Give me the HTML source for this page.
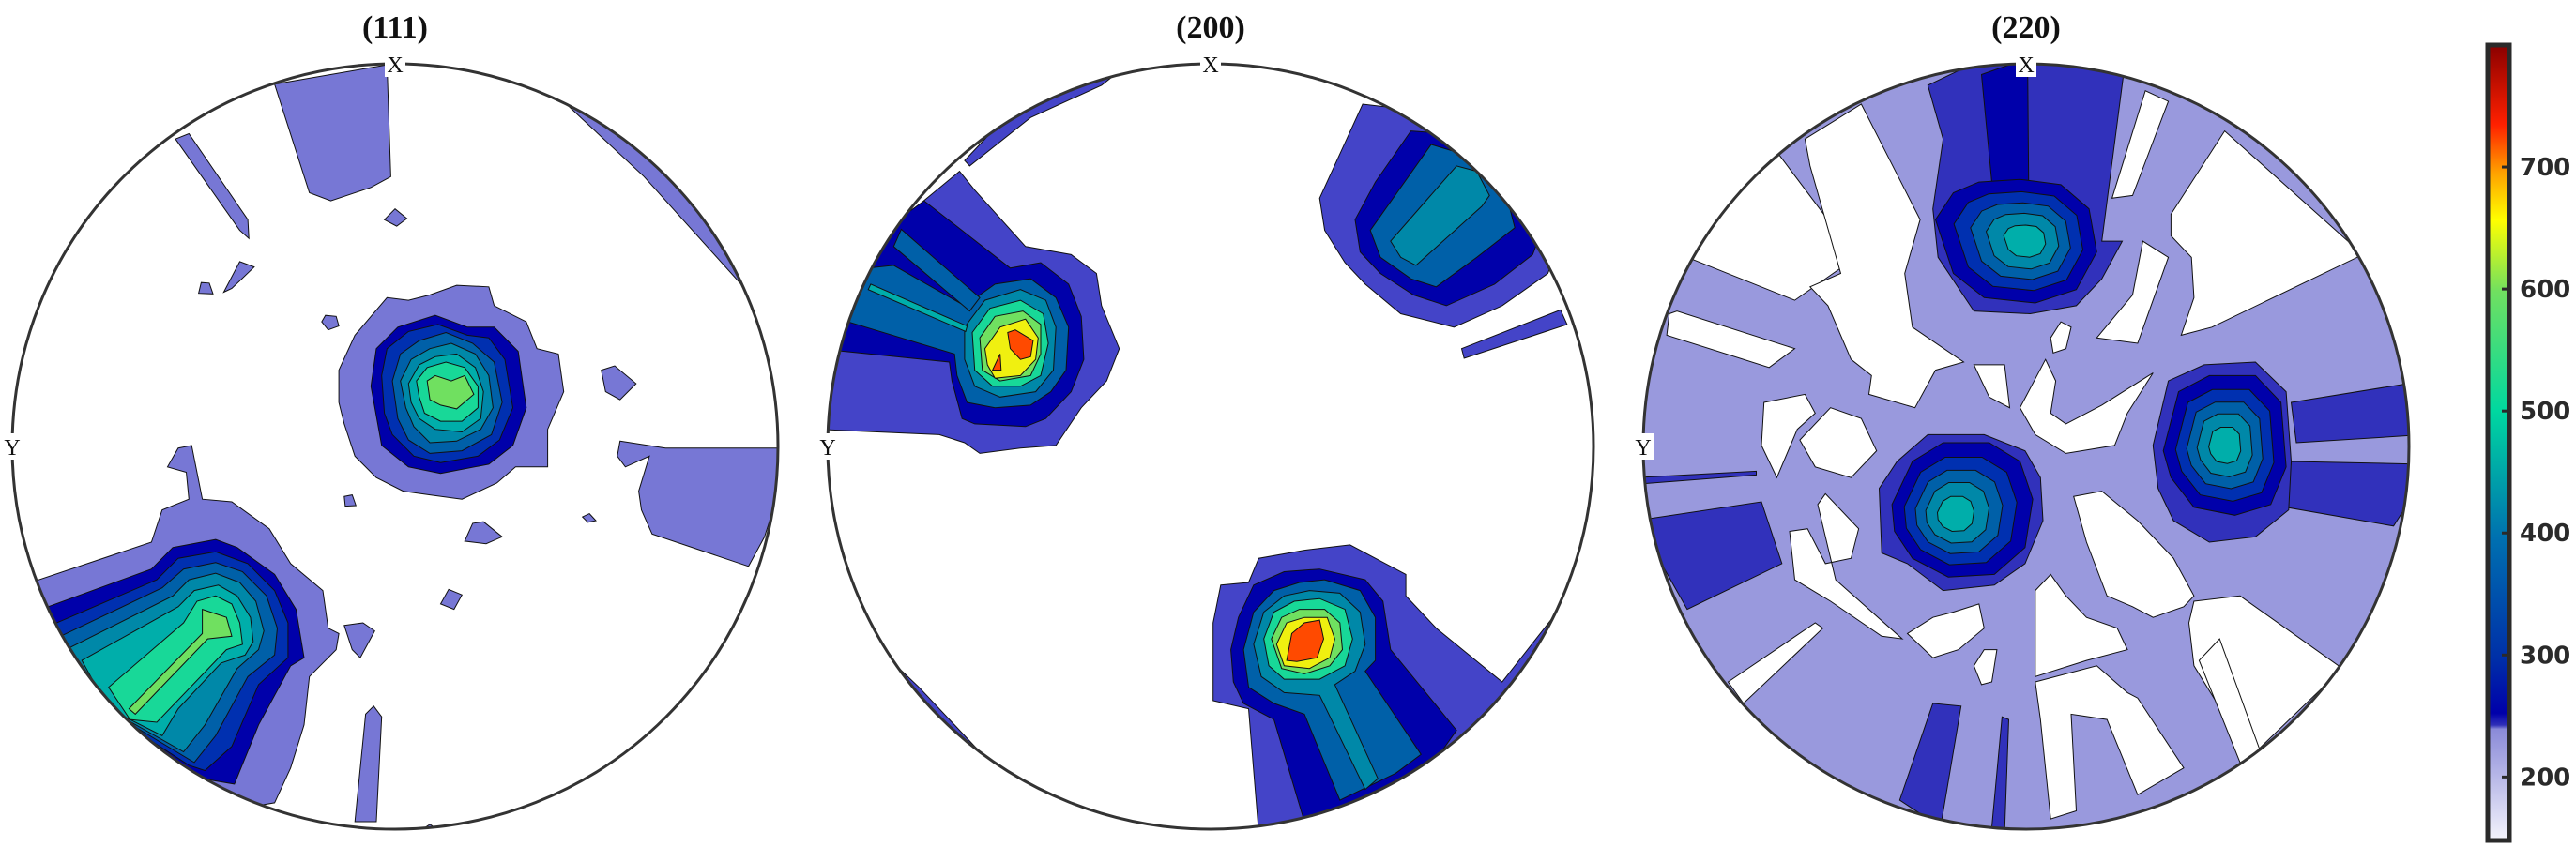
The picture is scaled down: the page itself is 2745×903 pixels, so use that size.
<!DOCTYPE html>
<html><head><meta charset="utf-8"><style>
html,body{margin:0;padding:0;background:#fff;}
svg{display:block;}
text{font-family:"Liberation Serif",serif;}
</style></head>
<body>
<svg id="fig" width="2745" height="903" viewBox="0 0 2745 903" xmlns="http://www.w3.org/2000/svg">
<defs>
<linearGradient id="cbg" x1="0" y1="1" x2="0" y2="0">
<stop offset="0" stop-color="#f4f4fc"/>
<stop offset="0.14" stop-color="#8a8ad8"/>
<stop offset="0.145" stop-color="#3030b8"/>
<stop offset="0.16" stop-color="#0000aa"/>
<stop offset="0.23" stop-color="#0030a8"/>
<stop offset="0.38" stop-color="#0070b0"/>
<stop offset="0.54" stop-color="#00d8a0"/>
<stop offset="0.69" stop-color="#70e060"/>
<stop offset="0.78" stop-color="#ffff00"/>
<stop offset="0.84" stop-color="#ffa000"/>
<stop offset="0.9" stop-color="#ff2000"/>
<stop offset="1" stop-color="#8a0000"/>
</linearGradient>
</defs>
<g id="panels"></g>
<g id="cbar"></g>
</svg>
<script>
// Colorbar data
const cbTicks = [200, 300, 400, 500, 600, 700];
const cbMin = 148, cbMax = 800;

const NS = 'http://www.w3.org/2000/svg';
const R = 408, CY = 476;
const panelTitles = ['(111)', '(200)', '(220)'];
const panelCx = [421, 1290, 2159];
const zoomFrame = [[735, 715], [775, 755], [782, 748]];

const C = {L1a:'#7777d5', L1b:'#4444c8', L1c:'#9999dd', D0:'#3131bb', D1:'#0000aa', D2:'#0030b0', D3:'#0060a8', D4:'#0088a8', D5:'#00aeaa', D6:'#18d898', D7:'#70e060', D8:'#f0f010', D9:'#ff4a00'};

// Panel 1 contours
const p1 = [
 ['L1a',[[510,148],[720,112],[727,320],[690,340],[615,365],[575,350]]],
 ['L1a',[[325,250],[350,240],[460,400],[462,435],[445,420]]],
 ['L1a',[[715,400],[735,380],[757,398],[738,412]]],
 ['L1a',[[415,535],[445,478],[472,488],[430,528]]],
 ['L1a',[[368,537],[373,517],[388,518],[395,538]]],
 ['L1a',[[598,590],[605,578],[625,580],[630,598],[610,605]]],
 ['L1a',[[630,680],[660,615],[720,545],[760,550],[800,540],[850,522],[910,525],[920,560],[980,590],[1000,640],[1040,650],[1050,720],[1020,790],[1020,860],[960,860],[925,890],[860,920],[800,912],[750,905],[700,880],[660,840],[640,780],[630,740]]],
 ['L1a',[[1155,812],[1240,825],[1460,825],[1460,880],[1425,990],[1395,1045],[1215,985],[1195,940],[1190,905],[1210,840],[1165,860],[1150,840]]],
 ['L1a',[[1120,680],[1145,672],[1185,705],[1155,735],[1128,720]]],
 ['L1a',[[865,998],[880,965],[900,962],[935,990],[905,1003]]],
 ['L1a',[[640,915],[655,912],[662,932],[642,933]]],
 ['L1a',[[1085,953],[1098,947],[1110,960],[1095,963]]],
 ['L1a',[[820,1115],[835,1088],[860,1098],[845,1125]]],
 ['L1a',[[640,1155],[675,1150],[697,1165],[670,1215],[655,1200]]],
 ['L1a',[[660,1520],[680,1320],[695,1305],[710,1325],[700,1520]]],
 ['L1a',[[40,1080],[280,1000],[300,940],[350,920],[345,870],[310,860],[330,825],[355,820],[375,920],[430,925],[500,975],[540,1040],[600,1090],[610,1160],[630,1170],[625,1200],[575,1250],[565,1340],[540,1420],[510,1485],[420,1500],[220,1400],[60,1200]]],
 ['L1a',[[1060,190],[1100,180],[1350,380],[1460,560],[1390,530],[1200,320]]],
 ['L1a',[[770,1545],[800,1525],[830,1545]]],
 ['D1',[[60,1130],[280,1050],[320,1010],[400,995],[440,1010],[510,1060],[550,1125],[565,1215],[540,1230],[480,1340],[435,1450],[375,1440],[230,1380],[80,1250]]],
 ['D2',[[80,1160],[290,1070],[330,1030],[400,1018],[460,1040],[510,1090],[535,1150],[535,1215],[480,1265],[430,1380],[380,1425],[350,1415],[140,1280]]],
 ['D3',[[100,1180],[300,1085],[340,1050],[400,1038],[450,1055],[495,1100],[515,1160],[510,1210],[460,1250],[400,1360],[360,1410],[160,1290]]],
 ['D4',[[120,1200],[320,1100],[350,1070],[400,1058],[445,1075],[475,1110],[490,1165],[480,1200],[440,1235],[380,1340],[340,1390],[180,1300]]],
 ['D5',[[150,1220],[330,1120],[360,1090],[405,1080],[440,1100],[465,1140],[470,1185],[455,1210],[410,1225],[330,1310],[300,1360],[200,1310]]],
 ['D6',[[200,1270],[340,1150],[365,1110],[400,1100],[430,1115],[445,1150],[450,1190],[420,1200],[290,1335],[240,1330]]],
 ['D7',[[375,1125],[420,1140],[430,1175],[385,1180],[250,1320],[238,1310],[375,1170]]],
 ['D1',[[690,710],[700,640],[740,600],[810,578],[870,600],[920,600],[965,645],[980,750],[955,820],[910,855],[820,872],[760,860],[710,820]]],
 ['D2',[[710,690],[720,640],[760,608],[815,595],[870,615],[910,620],[940,660],[955,750],[930,810],[890,840],[820,852],[770,840],[730,800],[715,760]]],
 ['D3',[[730,700],[745,650],[780,625],[830,610],[880,630],[920,665],[935,740],[915,800],[860,830],[800,835],[760,810],[740,770]]],
 ['D4',[[745,700],[765,660],[800,640],[840,630],[885,650],[910,690],[918,750],[895,790],[850,812],[800,815],[770,785],[755,750]]],
 ['D5',[[760,705],[780,670],[810,655],[850,650],[885,675],[900,720],[895,770],[860,795],[810,790],[780,770],[765,740]]],
 ['D6',[[775,700],[795,675],[830,665],[865,675],[890,710],[890,750],[860,775],[820,775],[790,760],[780,730]]],
 ['D7',[[795,700],[810,690],[840,700],[865,690],[882,725],[850,752],[820,745],[800,735]]]
];

// Panel 2 contours
const p2 = [
 ['L1b',[[0,700],[40,620],[110,480],[190,380],[280,310],[310,345],[410,450],[500,465],[550,500],[560,560],[595,640],[570,700],[520,750],[470,820],[400,825],[320,835],[290,815],[240,800],[0,790]]],
 ['L1b',[[290,290],[400,180],[600,120],[560,150],[420,210],[300,300]]],
 ['L1b',[[990,360],[1075,185],[1210,200],[1350,300],[1460,450],[1440,500],[1350,560],[1255,600],[1150,575],[1080,520],[1040,480],[1000,420]]],
 ['L1b',[[1270,640],[1465,568],[1478,595],[1275,658]]],
 ['L1b',[[795,1080],[850,1075],[870,1030],[960,1015],[1050,1005],[1120,1040],[1160,1060],[1160,1100],[1220,1160],[1350,1260],[1500,1080],[1480,1240],[1300,1420],[1150,1520],[1000,1560],[870,1540],[850,1310],[780,1295],[780,1150]]],
 ['L1b',[[100,1180],[200,1270],[350,1420],[330,1430],[100,1240]]],
 ['D1',[[0,640],[60,560],[130,420],[210,365],[380,490],[440,480],[495,520],[520,580],[525,660],[500,720],[450,770],[410,785],[310,780],[285,770],[265,700],[260,665]]],
 ['D3',[[60,590],[100,490],[150,485],[290,560],[350,520],[420,510],[470,545],[495,600],[490,680],[460,720],[420,745],[350,750],[295,740],[275,690],[270,650]]],
 ['D3',[[150,450],[165,418],[320,545],[300,570]]],
 ['D4',[[290,600],[330,550],[400,530],[450,550],[470,600],[465,680],[430,720],[360,730],[310,710],[290,660]]],
 ['D5',[[100,530],[105,520],[295,598],[292,608]]],
 ['D6',[[305,610],[340,565],[400,550],[445,575],[455,630],[440,690],[400,710],[345,710],[310,680]]],
 ['D7',[[320,620],[350,580],[405,570],[440,595],[440,650],[420,690],[360,700],[325,680]]],
 ['D8',[[330,640],[360,600],[410,585],[435,620],[430,660],[400,690],[350,695],[335,670]]],
 ['D9',[[375,610],[390,605],[425,625],[420,655],[400,660],[380,640]]],
 ['D9',[[345,680],[360,650],[362,680]]],
 ['D1',[[1060,400],[1100,330],[1170,235],[1240,240],[1350,320],[1420,440],[1410,465],[1335,520],[1240,560],[1175,540],[1110,500],[1070,460]]],
 ['D3',[[1090,420],[1120,380],[1210,260],[1280,280],[1360,360],[1375,415],[1300,470],[1220,525],[1170,510],[1110,470]]],
 ['D4',[[1130,440],[1260,300],[1300,310],[1325,355],[1310,375],[1180,485],[1150,470]]],
 ['D1',[[815,1200],[830,1140],[860,1080],[920,1055],[990,1050],[1080,1070],[1115,1110],[1130,1200],[1260,1350],[1230,1390],[1100,1470],[960,1520],[900,1330],[840,1300],[820,1260]]],
 ['D3',[[840,1200],[860,1130],[900,1090],[950,1075],[1000,1070],[1070,1090],[1100,1140],[1100,1220],[1080,1240],[1190,1395],[1140,1430],[1030,1480],[960,1320],[900,1300],[850,1270]]],
 ['D4',[[860,1190],[880,1130],[920,1100],[970,1090],[1030,1095],[1070,1130],[1080,1190],[1060,1240],[1020,1265],[1105,1440],[1080,1460],[990,1285],[920,1280],[875,1250]]],
 ['D6',[[880,1180],[900,1130],[940,1110],[990,1105],[1040,1125],[1055,1180],[1040,1230],[990,1255],[920,1255],[890,1230]]],
 ['D7',[[895,1180],[915,1140],[950,1125],[1000,1125],[1030,1150],[1035,1200],[1010,1230],[960,1245],[915,1235]]],
 ['D8',[[905,1190],[925,1150],[960,1140],[1005,1140],[1020,1180],[1010,1215],[970,1235],[920,1230]]],
 ['D9',[[925,1220],[935,1170],[960,1150],[990,1145],[998,1180],[985,1215],[945,1222]]]
];

// Panel 3 contours
const p3 = [
 ['BASE',null],
 ['W',[[120,430],[300,280],[450,470],[330,550],[120,470]]],
 ['W',[[350,250],[460,185],[575,400],[545,500],[560,600],[660,665],[605,680],[565,750],[475,725],[480,690],[440,660],[395,560],[360,525],[420,500],[360,300]]],
 ['W',[[950,360],[1015,160],[1060,180],[990,355]]],
 ['W',[[1065,390],[1170,235],[1440,465],[1145,600],[1085,615],[1110,545],[1105,470],[1065,430]]],
 ['W',[[920,620],[990,540],[1010,440],[1060,470],[1000,630]]],
 ['W',[[85,575],[100,570],[330,640],[280,675],[80,615]]],
 ['W',[[270,740],[350,725],[370,760],[335,790],[295,880],[265,820]]],
 ['W',[[340,810],[400,750],[460,770],[490,830],[440,880],[370,860]]],
 ['W',[[770,750],[820,660],[840,700],[830,760],[860,780],[930,745],[1030,685],[980,760],[955,820],[860,835],[800,800]]],
 ['W',[[680,670],[740,670],[750,750],[710,730]]],
 ['W',[[830,620],[850,590],[870,600],[860,640],[835,648]]],
 ['W',[[320,980],[355,975],[390,1040],[440,1030],[455,975],[390,910],[375,930],[410,1070],[540,1180],[500,1175],[400,1110],[330,1070]]],
 ['W',[[200,1260],[370,1150],[385,1160],[230,1300]]],
 ['W',[[875,915],[930,905],[1000,960],[1070,1030],[1110,1100],[1090,1120],[1030,1140],[990,1120],[940,1100],[900,1000]]],
 ['W',[[1110,1110],[1200,1100],[1400,1235],[1220,1400],[1110,1230],[1100,1150]]],
 ['W',[[800,1090],[830,1060],[860,1100],[900,1140],[960,1160],[980,1200],[900,1220],[800,1250]]],
 ['W',[[800,1260],[920,1230],[980,1280],[1000,1290],[1090,1420],[1000,1470],[940,1330],[870,1320],[880,1500],[830,1515],[810,1330]]],
 ['W',[[1120,1220],[1160,1180],[1240,1390],[1200,1410]]],
 ['W',[[550,1170],[600,1140],[640,1130],[690,1115],[700,1160],[650,1200],[600,1215]]],
 ['W',[[680,1230],[700,1200],[725,1200],[715,1260],[695,1265]]],
 ['D0',[[590,150],[700,100],[975,110],[930,440],[970,440],[930,510],[880,560],[790,575],[680,570],[610,470],[600,380],[620,250]]],
 ['D1',[[695,130],[785,100],[787,330],[715,330]]],
 ['D0',[[20,960],[265,925],[305,1040],[120,1125],[40,990]]],
 ['D0',[[20,880],[255,868],[255,875],[25,892]]],
 ['D0',[[535,1480],[600,1300],[655,1305],[615,1530]]],
 ['D0',[[715,1530],[735,1325],[748,1330],[740,1540]]],
 ['D0',[[1300,740],[1560,700],[1560,800],[1310,815]]],
 ['D0',[[1300,850],[1560,855],[1560,880],[1500,970],[1290,935]]],
 ['D0',[[495,900],[530,850],[590,800],[700,800],[780,830],[810,880],[815,960],[780,1040],[720,1080],[620,1090],[550,1040],[500,1020]]],
 ['D0',[[1030,820],[1060,700],[1130,670],[1230,665],[1290,720],[1300,850],[1295,940],[1230,990],[1140,1000],[1070,960],[1040,900]]],
 ['NEST',[785,440],[[605,400],[640,350],[690,330],[770,325],[850,335],[905,380],[920,460],[880,530],[800,555],[700,545],[640,500]]],
 ['NEST',[640,950],[[520,930],[560,850],[620,815],[710,815],[770,850],[795,920],[780,1010],[720,1060],[630,1065],[560,1030],[525,980]]],
 ['NEST',[1170,820],[[1050,830],[1080,720],[1140,690],[1230,690],[1280,740],[1290,860],[1260,930],[1190,950],[1110,935],[1065,880]]]
];
const nestScale = [1, 0.8, 0.62, 0.45, 0.26];
const nestColors = ['D1', 'D2', 'D3', 'D4', 'D5'];

const panelsData = [p1, p2, p3];
const baseColor = ['L1a', 'L1b', 'L1c'];

function mk(tag, attrs, parent) {
  const el = document.createElementNS(NS, tag);
  for (const k in attrs) el.setAttribute(k, attrs[k]);
  parent.appendChild(el);
  return el;
}

const panelsG = document.getElementById('panels');
panelsData.forEach((data, i) => {
  const cx = panelCx[i];
  const [zcx, zr] = zoomFrame[i];
  const tx = px => cx + (px - zcx) / zr * R;
  const ty = py => CY + (py - 822) / 712 * R;
  const pts = arr => arr.map(p => tx(p[0]).toFixed(1) + ',' + ty(p[1]).toFixed(1)).join(' ');

  const g = mk('g', {}, panelsG);
  
  
  const cp = mk('clipPath', {id: 'clip' + i}, g);
  mk('circle', {cx: cx, cy: CY, r: R}, cp);
  const inner = mk('g', {'clip-path': 'url(#clip' + i + ')'}, g);

  data.forEach(item => {
    const kind = item[0];
    if (kind === 'BASE') {
      const c = mk('circle', {cx: cx, cy: CY, r: R, fill: C[baseColor[i]]}, inner);
      
      
    } else if (kind === 'NEST') {
      const ctr = item[1], poly = item[2];
      nestScale.forEach((s, k) => {
        const sp = poly.map(p => [ctr[0] + (p[0] - ctr[0]) * s, ctr[1] + (p[1] - ctr[1]) * s]);
        const el = mk('polygon', {points: pts(sp), fill: C[nestColors[k]], stroke: '#111', 'stroke-width': 1}, inner);
        
        
      });
    } else {
      const fill = kind === 'W' ? '#ffffff' : C[kind];
      const el = mk('polygon', {points: pts(item[1]), fill: fill, stroke: '#111', 'stroke-width': 1}, inner);
      
      
    }
  });

  const outline = mk('circle', {cx: cx, cy: CY, r: R, fill: 'none', stroke: '#333', 'stroke-width': 3}, g);
  
  

  const title = mk('text', {x: cx, y: 40, 'text-anchor': 'middle', 'font-size': 34, 'font-weight': 'bold', fill: '#111'}, g);
  title.textContent = panelTitles[i];
  
  

  mk('rect', {x: cx - 11, y: CY - R - 14, width: 22, height: 28, fill: '#fff'}, g);
  const xl = mk('text', {x: cx, y: CY - R + 9, 'text-anchor': 'middle', 'font-size': 24, fill: '#111'}, g);
  xl.textContent = 'X';
  
  

  mk('rect', {x: cx - R - 11, y: CY - 14, width: 22, height: 28, fill: '#fff'}, g);
  const yl = mk('text', {x: cx - R, y: CY + 9, 'text-anchor': 'middle', 'font-size': 24, fill: '#111'}, g);
  yl.textContent = 'Y';
  
  
});

// Colorbar
const cb = document.getElementById('cbar');


const cbTop = 48, cbBot = 896, cbX = 2651, cbW = 23;
const vy = v => cbBot - (v - cbMin) / (cbMax - cbMin) * (cbBot - cbTop);
const bar = mk('rect', {x: cbX, y: cbTop, width: cbW, height: cbBot - cbTop, fill: 'url(#cbg)', stroke: '#2a2a2a', 'stroke-width': 5}, cb);


cbTicks.forEach(v => {
  const y = vy(v);
  const t = mk('line', {x1: cbX + cbW - 8, x2: cbX + cbW, y1: y, y2: y, stroke: '#2a2a2a', 'stroke-width': 3}, cb);
  
  
  const l = mk('text', {x: 2685, y: y + 9, 'font-size': 26, 'font-weight': 'bold', fill: '#2a2a2a', style: 'font-family:"DejaVu Sans","Liberation Sans",sans-serif'}, cb);
  l.textContent = v;
  
  
});
</script>
</body></html>
